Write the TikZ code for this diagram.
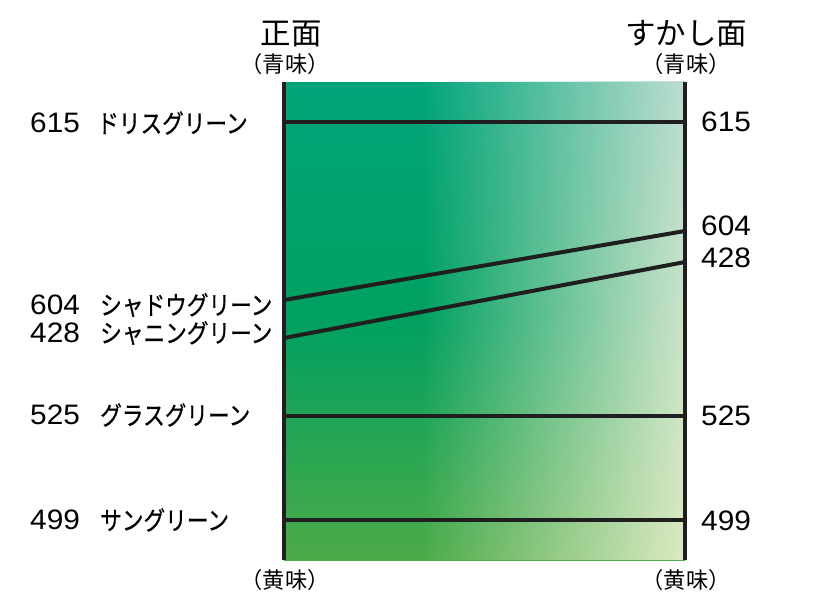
\documentclass[tikz,border=0pt]{standalone}
\usepackage{fontspec}
\setmainfont{Liberation Sans}
\newfontfamily\numfont[FakeStretch=1.06]{Liberation Sans}
\newfontfamily\jpfont{Noto Sans CJK JP}
\newfontfamily\jpnarrow[FakeStretch=0.84, FakeBold=0.6]{Noto Sans CJK JP}
\usetikzlibrary{fadings}
\definecolor{grnTopL}{RGB}{0,165,122}
\definecolor{grnMidL}{RGB}{0,160,96}
\definecolor{grnBotL}{RGB}{76,171,72}
\definecolor{paleTopR}{RGB}{188,221,208}
\definecolor{paleBotR}{RGB}{220,234,194}
\tikzfading[name=fadetoright, left color=transparent!100, middle color=transparent!65, right color=transparent!0]
\tikzset{
	colline/.style={line width=1.2mm, black!88},
	numlabel/.style={font=\numfont\fontsize{24}{26}\selectfont, anchor=west, inner sep=0pt},
	namelabel/.style={font=\jpnarrow\fontsize{22}{24}\selectfont, anchor=west, inner sep=0pt},
	headlabel/.style={font=\jpfont\fontsize{26}{28}\selectfont, inner sep=0pt},
	sublabel/.style={font=\jpfont\fontsize{19}{21}\selectfont, inner sep=0pt},
}

\begin{document}
\begin{tikzpicture}[x=0.3mm, y=-0.3mm]
	\useasboundingbox (0,0) rectangle (840,614);

	% Column ends
	\coordinate (Ltop) at (284,82);
	\coordinate (Lbot) at (284,560);
	\coordinate (Rtop) at (685,82);
	\coordinate (Rbot) at (685,560);

	% Colour band
	\shade[top color=grnTopL, bottom color=grnBotL, middle color=grnMidL] (Ltop) rectangle (Rbot);
	\shade[top color=paleTopR, bottom color=paleBotR, path fading=fadetoright] (420,82) rectangle (Rbot);

	% Headings
	\node[headlabel] (front) at (291,34) {正面};
	\node[headlabel] (back) at (686,34) {すかし面};
	\node[sublabel] (blueL) at (285,64) {（青味）};
	\node[sublabel] (blueR) at (686,64) {（青味）};
	\node[sublabel] (yelL) at (285,580) {（黄味）};
	\node[sublabel] (yelR) at (686,580) {（黄味）};

	% Left labels
	\node[numlabel] (n615L) at (30,123) {615};
	\node[namelabel] (nm615) at (97,123) {ドリスグリーン};
	\node[numlabel] (n604L) at (30,305) {604};
	\node[namelabel] (nm604) at (100,305) {シャドウグリーン};
	\node[numlabel] (n428L) at (30,333) {428};
	\node[namelabel] (nm428) at (100,333) {シャニングリーン};
	\node[numlabel] (n525L) at (30,415) {525};
	\node[namelabel] (nm525) at (100,415) {グラスグリーン};
	\node[numlabel] (n499L) at (30,520) {499};
	\node[namelabel] (nm499) at (100,520) {サングリーン};

	% Right labels
	\node[numlabel] (n615R) at (701,122) {615};
	\node[numlabel] (n604R) at (701,226) {604};
	\node[numlabel] (n428R) at (701,258) {428};
	\node[numlabel] (n525R) at (701,416) {525};
	\node[numlabel] (n499R) at (701,521) {499};

	% Line ends
	\coordinate (a615) at (284,122);  \coordinate (b615) at (685,122);
	\coordinate (a604) at (284,300);  \coordinate (b604) at (685,231);
	\coordinate (a428) at (284,338);  \coordinate (b428) at (685,262);
	\coordinate (a525) at (284,416);  \coordinate (b525) at (685,416);
	\coordinate (a499) at (284,520);  \coordinate (b499) at (685,520);

	% Lines
	\draw[colline] (a615) -- (b615);
	\draw[colline] (a604) -- (b604);
	\draw[colline] (a428) -- (b428);
	\draw[colline] (a525) -- (b525);
	\draw[colline] (a499) -- (b499);
	\draw[colline] (Ltop) -- (Lbot);
	\draw[colline] (Rtop) -- (Rbot);
\end{tikzpicture}
\end{document}
